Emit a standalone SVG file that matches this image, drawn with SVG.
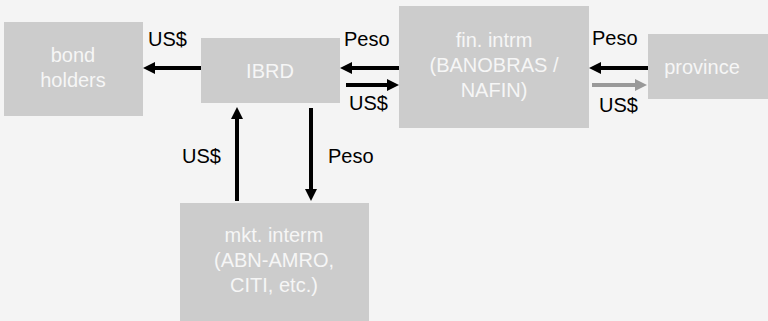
<svg xmlns="http://www.w3.org/2000/svg" width="768" height="321" viewBox="0 0 768 321">
<defs>
<style>
.box{fill:#cccccc}
.bt{fill:#f6f6f6;font-family:"Liberation Sans",Arial,sans-serif;font-size:20px;text-anchor:middle}
.lb{fill:#000;font-family:"Liberation Sans",Arial,sans-serif;font-size:20px}
.ln{stroke:#000;stroke-width:4;fill:none}
.lg{stroke:#999;stroke-width:4;fill:none}
</style>
<marker id="ah" markerWidth="3" markerHeight="3" refX="0" refY="1.5" orient="auto" markerUnits="strokeWidth"><path d="M0,0 L3,1.5 L0,3 Z" fill="#000"/></marker>
<marker id="ahg" markerWidth="3" markerHeight="3" refX="0" refY="1.5" orient="auto" markerUnits="strokeWidth"><path d="M0,0 L3,1.5 L0,3 Z" fill="#999"/></marker>
</defs>
<rect width="768" height="321" fill="#f4f4f4"/>
<g id="bond-holders"><rect class="box" x="4" y="22" width="139" height="94"/><text class="bt" x="73" y="62">bond</text><text class="bt" x="73" y="87">holders</text></g>
<g id="ibrd"><rect class="box" x="201" y="38" width="139" height="65"/><text class="bt" x="270" y="78">IBRD</text></g>
<g id="fin-intrm"><rect class="box" x="399" y="6" width="190" height="122"/><text class="bt" x="494" y="47">fin. intrm</text><text class="bt" x="494" y="72">(BANOBRAS /</text><text class="bt" x="494" y="97">NAFIN)</text></g>
<g id="province"><rect class="box" x="648" y="34" width="120" height="65"/><text class="bt" x="702" y="74">province</text></g>
<g id="mkt-interm"><rect class="box" x="180" y="203" width="189" height="118"/><text class="bt" x="274" y="242">mkt. interm</text><text class="bt" x="274" y="267">(ABN-AMRO,</text><text class="bt" x="274" y="292">CITI, etc.)</text></g>
<g id="connectors">
<line class="ln" x1="201" y1="68" x2="155" y2="68" marker-end="url(#ah)"/>
<line class="ln" x1="399" y1="68" x2="352" y2="68" marker-end="url(#ah)"/>
<line class="ln" x1="346" y1="85" x2="387" y2="85" marker-end="url(#ah)"/>
<line class="ln" x1="648" y1="68" x2="601" y2="68" marker-end="url(#ah)"/>
<line class="lg" x1="592" y1="85" x2="635" y2="85" marker-end="url(#ahg)"/>
<line class="ln" x1="237" y1="201" x2="237" y2="119" marker-end="url(#ah)"/>
<line class="ln" x1="311" y1="108" x2="311" y2="189" marker-end="url(#ah)"/>
<text class="lb" x="148" y="46">US$</text>
<text class="lb" x="344" y="46">Peso</text>
<text class="lb" x="349" y="110">US$</text>
<text class="lb" x="592" y="45">Peso</text>
<text class="lb" x="599" y="112">US$</text>
<text class="lb" x="182" y="163">US$</text>
<text class="lb" x="328" y="163">Peso</text>
</g>
</svg>
